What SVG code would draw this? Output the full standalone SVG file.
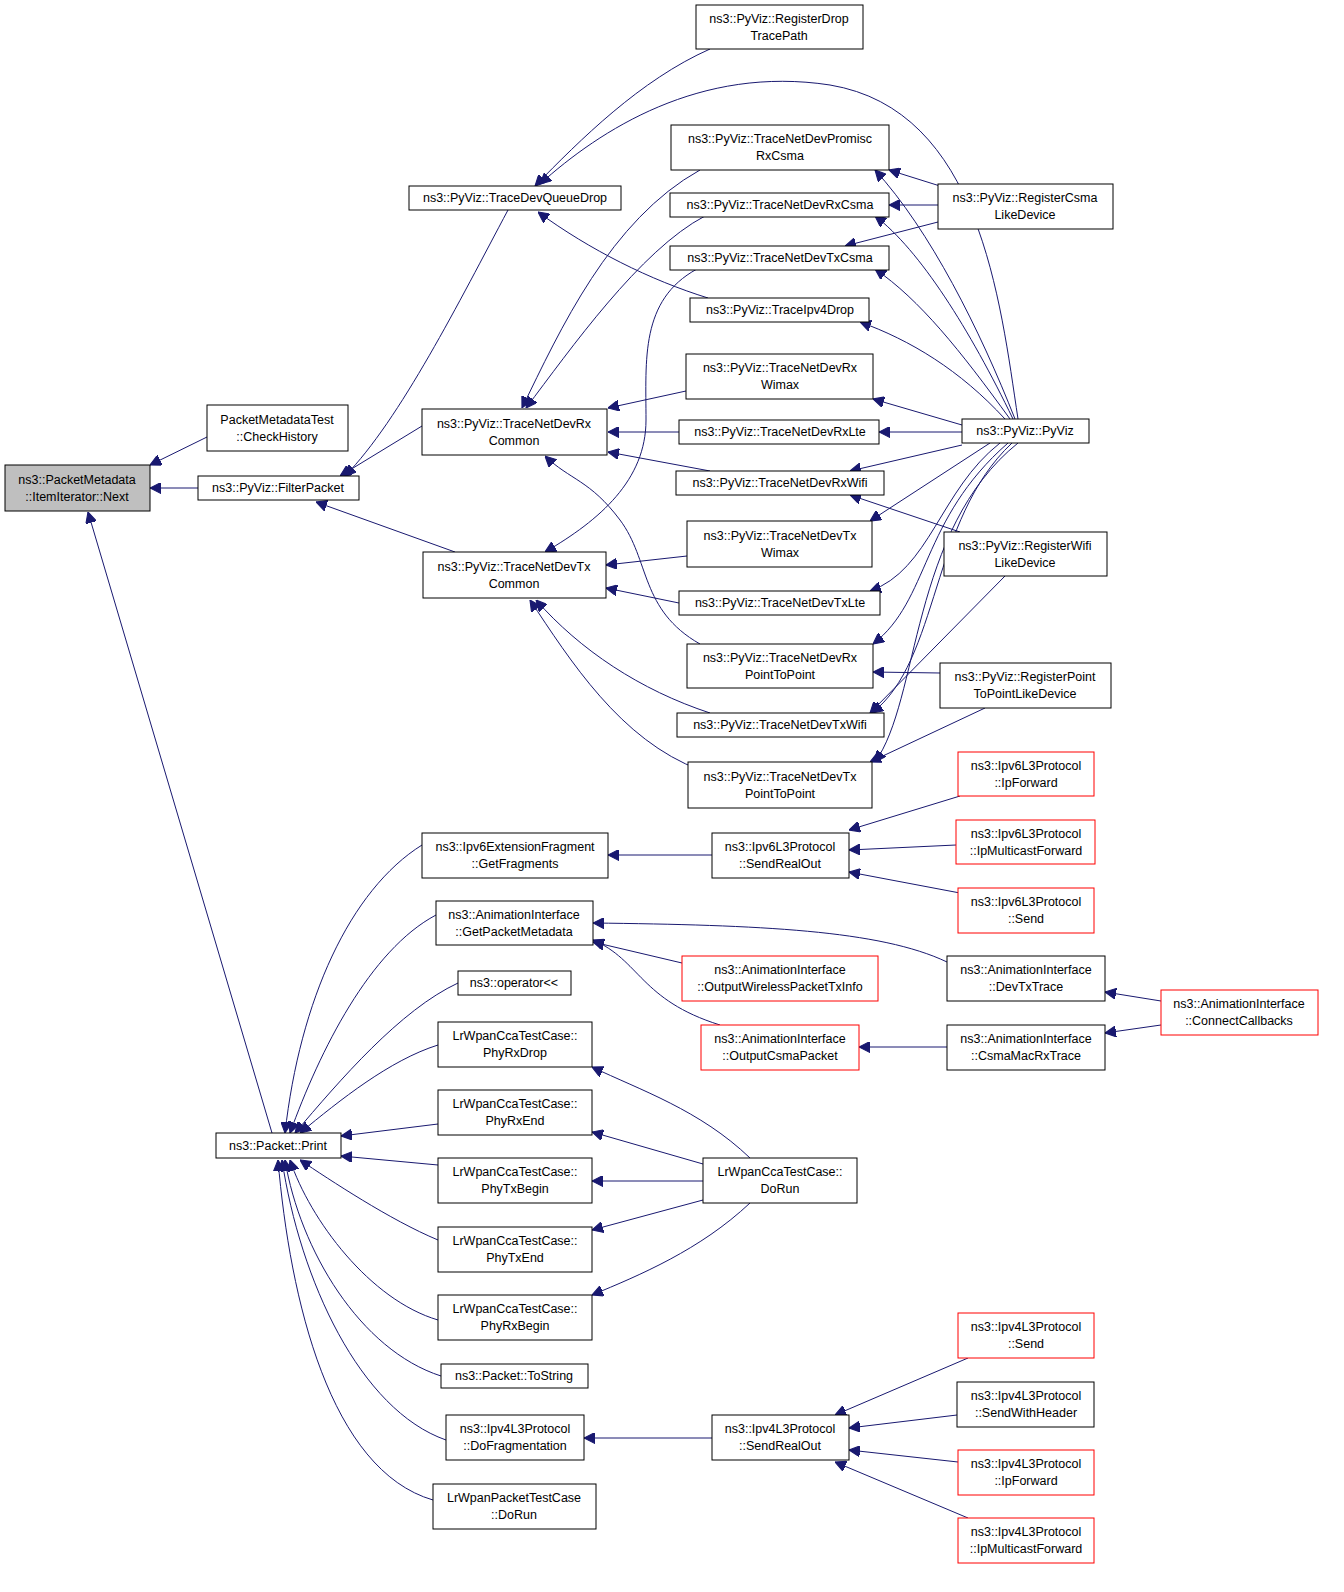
<svg xmlns="http://www.w3.org/2000/svg" width="1344" height="1592" viewBox="0 0 1344 1592">
<style>
.n rect{fill:#fff;stroke:#000;stroke-width:1}
.n.r rect{stroke:#ff0000}
.n.g rect{fill:#bfbfbf}
text{font-family:"Liberation Sans",Arial,sans-serif;font-size:12.5px;text-anchor:middle;fill:#000}
#edges path{fill:none;stroke:#191970;stroke-width:1;marker-end:url(#a)}
</style>
<defs><marker id="a" viewBox="0 0 10 10" refX="10" refY="5" markerWidth="11" markerHeight="11" markerUnits="userSpaceOnUse" orient="auto"><path d="M0,0L10,5L0,10z" fill="#191970" stroke="#191970"/></marker></defs>
<rect width="1344" height="1592" fill="#fff"/>
<g id="edges">
<path d="M207,437L150,465"/>
<path d="M198,488L150,488"/>
<path d="M272,1133L88,512"/>
<path d="M508,210C460,300 400,420 345,476"/>
<path d="M422,426L340,476"/>
<path d="M455,552L316,502"/>
<path d="M710,49C640,80 580,140 535,186"/>
<path d="M1018,419C1000,300 980,110 830,85C700,65 600,130 540,184"/>
<path d="M708,298C650,280 590,250 538,212"/>
<path d="M700,170C610,220 560,330 522,408"/>
<path d="M705,216C640,250 570,350 526,408"/>
<path d="M697,269C640,300 646,360 646,420C646,480 600,520 545,552"/>
<path d="M686,391L608,408"/>
<path d="M679,432L608,432"/>
<path d="M710,471L608,452"/>
<path d="M700,644C640,610 650,560 620,520C590,480 570,480 545,456"/>
<path d="M687,556L606,565"/>
<path d="M679,603L606,588"/>
<path d="M710,713C640,690 580,650 536,600"/>
<path d="M700,770C620,740 570,660 530,600"/>
<path d="M940,186L889,170"/>
<path d="M938,205L889,205"/>
<path d="M938,222L845,246"/>
<path d="M1015,419C980,330 930,230 875,170"/>
<path d="M1013,419C970,330 920,250 875,216"/>
<path d="M1010,419C960,350 920,300 875,269"/>
<path d="M1005,419C960,370 910,340 860,322"/>
<path d="M962,425L873,399"/>
<path d="M962,432L879,432"/>
<path d="M962,445L850,471"/>
<path d="M990,443L870,521"/>
<path d="M1000,443C940,490 930,570 870,591"/>
<path d="M1008,443C920,520 930,600 873,644"/>
<path d="M1012,443C930,520 940,660 872,713"/>
<path d="M960,532L850,495"/>
<path d="M1005,576L870,713"/>
<path d="M1018,443C910,530 920,700 875,762"/>
<path d="M940,673L873,672"/>
<path d="M985,708L870,762"/>
<path d="M422,845C350,890 300,1000 285,1133"/>
<path d="M436,915C370,950 320,1050 290,1133"/>
<path d="M458,983C400,1010 340,1080 295,1133"/>
<path d="M438,1045C390,1060 340,1100 300,1133"/>
<path d="M438,1124L341,1136"/>
<path d="M438,1165L341,1156"/>
<path d="M438,1240C390,1220 330,1180 300,1160"/>
<path d="M438,1320C370,1300 310,1220 290,1160"/>
<path d="M441,1376C360,1350 300,1250 285,1160"/>
<path d="M446,1440C360,1410 300,1280 282,1160"/>
<path d="M433,1500C330,1470 290,1300 278,1160"/>
<path d="M712,855L608,855"/>
<path d="M960,796L849,830"/>
<path d="M956,845L849,850"/>
<path d="M960,893L849,872"/>
<path d="M947,962C880,930 760,925 593,923"/>
<path d="M682,963L593,942"/>
<path d="M720,1025C640,1000 640,960 593,940"/>
<path d="M947,1047L859,1047"/>
<path d="M1161,1001L1105,992"/>
<path d="M1161,1025L1105,1033"/>
<path d="M750,1158C700,1110 640,1090 592,1067"/>
<path d="M703,1164L592,1132"/>
<path d="M703,1181L592,1181"/>
<path d="M703,1200L592,1230"/>
<path d="M750,1203C700,1250 640,1275 592,1295"/>
<path d="M712,1438L584,1438"/>
<path d="M968,1358L835,1415"/>
<path d="M957,1415L849,1428"/>
<path d="M958,1462L849,1450"/>
<path d="M968,1518L835,1462"/>
</g>
<g id="next" class="n g"><rect x="5" y="465" width="145" height="46"/><text x="77" y="484">ns3::PacketMetadata</text><text x="77" y="501">::ItemIterator::Next</text></g>
<g id="checkHistory" class="n"><rect x="207" y="405" width="141" height="46"/><text x="277" y="424">PacketMetadataTest</text><text x="277" y="441">::CheckHistory</text></g>
<g id="filterPacket" class="n"><rect x="198" y="476" width="161" height="24"/><text x="278" y="492">ns3::PyViz::FilterPacket</text></g>
<g id="traceDevQueueDrop" class="n"><rect x="409" y="186" width="212" height="24"/><text x="515" y="202">ns3::PyViz::TraceDevQueueDrop</text></g>
<g id="rxCommon" class="n"><rect x="422" y="409" width="185" height="46"/><text x="514" y="428">ns3::PyViz::TraceNetDevRx</text><text x="514" y="445">Common</text></g>
<g id="txCommon" class="n"><rect x="423" y="552" width="183" height="46"/><text x="514" y="571">ns3::PyViz::TraceNetDevTx</text><text x="514" y="588">Common</text></g>
<g id="registerDrop" class="n"><rect x="696" y="5" width="167" height="44"/><text x="779" y="23">ns3::PyViz::RegisterDrop</text><text x="779" y="40">TracePath</text></g>
<g id="promiscRxCsma" class="n"><rect x="671" y="125" width="218" height="45"/><text x="780" y="143">ns3::PyViz::TraceNetDevPromisc</text><text x="780" y="160">RxCsma</text></g>
<g id="rxCsma" class="n"><rect x="670" y="193" width="219" height="24"/><text x="780" y="209">ns3::PyViz::TraceNetDevRxCsma</text></g>
<g id="txCsma" class="n"><rect x="670" y="246" width="219" height="24"/><text x="780" y="262">ns3::PyViz::TraceNetDevTxCsma</text></g>
<g id="ipv4Drop" class="n"><rect x="690" y="298" width="179" height="24"/><text x="780" y="314">ns3::PyViz::TraceIpv4Drop</text></g>
<g id="rxWimax" class="n"><rect x="686" y="354" width="187" height="45"/><text x="780" y="372">ns3::PyViz::TraceNetDevRx</text><text x="780" y="389">Wimax</text></g>
<g id="rxLte" class="n"><rect x="679" y="420" width="200" height="24"/><text x="780" y="436">ns3::PyViz::TraceNetDevRxLte</text></g>
<g id="rxWifi" class="n"><rect x="676" y="471" width="208" height="24"/><text x="780" y="487">ns3::PyViz::TraceNetDevRxWifi</text></g>
<g id="txWimax" class="n"><rect x="687" y="521" width="185" height="46"/><text x="780" y="540">ns3::PyViz::TraceNetDevTx</text><text x="780" y="557">Wimax</text></g>
<g id="txLte" class="n"><rect x="679" y="591" width="201" height="24"/><text x="780" y="607">ns3::PyViz::TraceNetDevTxLte</text></g>
<g id="rxP2P" class="n"><rect x="687" y="644" width="186" height="44"/><text x="780" y="662">ns3::PyViz::TraceNetDevRx</text><text x="780" y="679">PointToPoint</text></g>
<g id="txWifi" class="n"><rect x="677" y="713" width="207" height="24"/><text x="780" y="729">ns3::PyViz::TraceNetDevTxWifi</text></g>
<g id="txP2P" class="n"><rect x="688" y="762" width="184" height="46"/><text x="780" y="781">ns3::PyViz::TraceNetDevTx</text><text x="780" y="798">PointToPoint</text></g>
<g id="registerCsma" class="n"><rect x="938" y="184" width="175" height="45"/><text x="1025" y="202">ns3::PyViz::RegisterCsma</text><text x="1025" y="219">LikeDevice</text></g>
<g id="pyviz" class="n"><rect x="962" y="419" width="127" height="24"/><text x="1025" y="435">ns3::PyViz::PyViz</text></g>
<g id="registerWifi" class="n"><rect x="944" y="532" width="163" height="44"/><text x="1025" y="550">ns3::PyViz::RegisterWifi</text><text x="1025" y="567">LikeDevice</text></g>
<g id="registerP2P" class="n"><rect x="940" y="663" width="171" height="45"/><text x="1025" y="681">ns3::PyViz::RegisterPoint</text><text x="1025" y="698">ToPointLikeDevice</text></g>
<g id="ipv6IpForward" class="n r"><rect x="958" y="752" width="136" height="44"/><text x="1026" y="770">ns3::Ipv6L3Protocol</text><text x="1026" y="787">::IpForward</text></g>
<g id="ipv6Multicast" class="n r"><rect x="956" y="820" width="139" height="44"/><text x="1026" y="838">ns3::Ipv6L3Protocol</text><text x="1026" y="855">::IpMulticastForward</text></g>
<g id="ipv6Send" class="n r"><rect x="958" y="888" width="136" height="45"/><text x="1026" y="906">ns3::Ipv6L3Protocol</text><text x="1026" y="923">::Send</text></g>
<g id="ipv6SendRealOut" class="n"><rect x="712" y="833" width="137" height="45"/><text x="780" y="851">ns3::Ipv6L3Protocol</text><text x="780" y="868">::SendRealOut</text></g>
<g id="getFragments" class="n"><rect x="422" y="833" width="186" height="45"/><text x="515" y="851">ns3::Ipv6ExtensionFragment</text><text x="515" y="868">::GetFragments</text></g>
<g id="getPacketMetadata" class="n"><rect x="436" y="901" width="157" height="44"/><text x="514" y="919">ns3::AnimationInterface</text><text x="514" y="936">::GetPacketMetadata</text></g>
<g id="outputWireless" class="n r"><rect x="682" y="956" width="196" height="45"/><text x="780" y="974">ns3::AnimationInterface</text><text x="780" y="991">::OutputWirelessPacketTxInfo</text></g>
<g id="outputCsma" class="n r"><rect x="701" y="1025" width="158" height="45"/><text x="780" y="1043">ns3::AnimationInterface</text><text x="780" y="1060">::OutputCsmaPacket</text></g>
<g id="devTxTrace" class="n"><rect x="947" y="956" width="158" height="45"/><text x="1026" y="974">ns3::AnimationInterface</text><text x="1026" y="991">::DevTxTrace</text></g>
<g id="csmaMacRxTrace" class="n"><rect x="947" y="1025" width="158" height="45"/><text x="1026" y="1043">ns3::AnimationInterface</text><text x="1026" y="1060">::CsmaMacRxTrace</text></g>
<g id="connectCallbacks" class="n r"><rect x="1161" y="990" width="157" height="45"/><text x="1239" y="1008">ns3::AnimationInterface</text><text x="1239" y="1025">::ConnectCallbacks</text></g>
<g id="operator" class="n"><rect x="458" y="971" width="113" height="24"/><text x="514" y="987">ns3::operator&lt;&lt;</text></g>
<g id="phyRxDrop" class="n"><rect x="438" y="1022" width="154" height="45"/><text x="515" y="1040">LrWpanCcaTestCase::</text><text x="515" y="1057">PhyRxDrop</text></g>
<g id="phyRxEnd" class="n"><rect x="438" y="1090" width="154" height="45"/><text x="515" y="1108">LrWpanCcaTestCase::</text><text x="515" y="1125">PhyRxEnd</text></g>
<g id="phyTxBegin" class="n"><rect x="438" y="1158" width="154" height="45"/><text x="515" y="1176">LrWpanCcaTestCase::</text><text x="515" y="1193">PhyTxBegin</text></g>
<g id="phyTxEnd" class="n"><rect x="438" y="1227" width="154" height="45"/><text x="515" y="1245">LrWpanCcaTestCase::</text><text x="515" y="1262">PhyTxEnd</text></g>
<g id="phyRxBegin" class="n"><rect x="438" y="1295" width="154" height="45"/><text x="515" y="1313">LrWpanCcaTestCase::</text><text x="515" y="1330">PhyRxBegin</text></g>
<g id="ccaDoRun" class="n"><rect x="703" y="1158" width="154" height="45"/><text x="780" y="1176">LrWpanCcaTestCase::</text><text x="780" y="1193">DoRun</text></g>
<g id="print" class="n"><rect x="216" y="1133" width="125" height="25"/><text x="278" y="1150">ns3::Packet::Print</text></g>
<g id="toString" class="n"><rect x="441" y="1364" width="147" height="24"/><text x="514" y="1380">ns3::Packet::ToString</text></g>
<g id="doFragmentation" class="n"><rect x="446" y="1415" width="138" height="45"/><text x="515" y="1433">ns3::Ipv4L3Protocol</text><text x="515" y="1450">::DoFragmentation</text></g>
<g id="packetDoRun" class="n"><rect x="433" y="1484" width="163" height="45"/><text x="514" y="1502">LrWpanPacketTestCase</text><text x="514" y="1519">::DoRun</text></g>
<g id="ipv4SendRealOut" class="n"><rect x="712" y="1415" width="137" height="45"/><text x="780" y="1433">ns3::Ipv4L3Protocol</text><text x="780" y="1450">::SendRealOut</text></g>
<g id="ipv4Send" class="n r"><rect x="958" y="1313" width="136" height="45"/><text x="1026" y="1331">ns3::Ipv4L3Protocol</text><text x="1026" y="1348">::Send</text></g>
<g id="sendWithHeader" class="n"><rect x="957" y="1382" width="137" height="45"/><text x="1026" y="1400">ns3::Ipv4L3Protocol</text><text x="1026" y="1417">::SendWithHeader</text></g>
<g id="ipv4IpForward" class="n r"><rect x="958" y="1450" width="136" height="45"/><text x="1026" y="1468">ns3::Ipv4L3Protocol</text><text x="1026" y="1485">::IpForward</text></g>
<g id="ipv4Multicast" class="n r"><rect x="958" y="1518" width="136" height="45"/><text x="1026" y="1536">ns3::Ipv4L3Protocol</text><text x="1026" y="1553">::IpMulticastForward</text></g>
</svg>
